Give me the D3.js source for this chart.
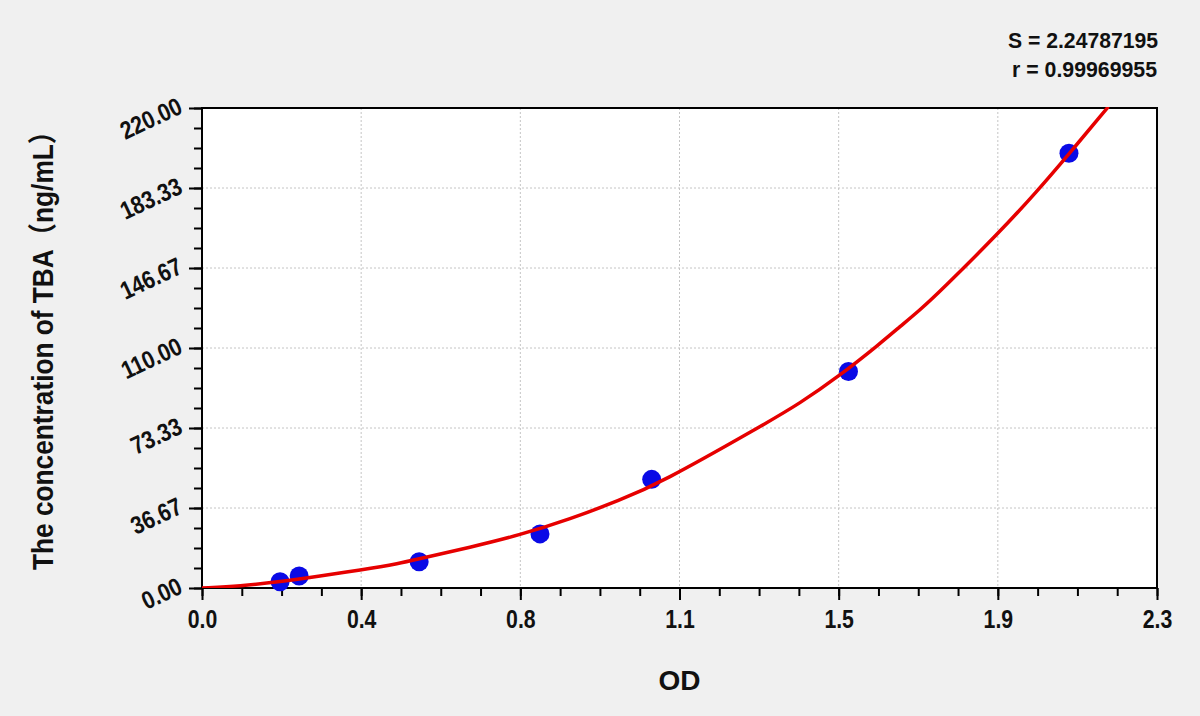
<!DOCTYPE html>
<html>
<head>
<meta charset="utf-8">
<script src="https://cdn.jsdelivr.net/npm/d3@7"></script>
<style>
  body { margin: 0; background: #f0f0f0; }
  svg { display: block; }
  text { font-family: "Liberation Sans", Arial, "Noto Sans CJK SC", sans-serif; font-weight: bold; fill: #111; }
</style>
</head>
<body>
<svg></svg>
<script>
// standards
let pointOD = [0.188, 0.234, 0.523, 0.814, 1.083, 1.557, 2.088]
let pointConc = [2.9, 5.5, 12.0, 24.8, 49.8, 99.2, 199.3]

// fitted curve
let fitOD = [0, 0.092, 0.188, 0.284, 0.381, 0.477, 0.525, 0.645, 0.766, 0.886, 1.007, 1.103, 1.344, 1.440, 1.537, 1.633, 1.681, 1.729, 1.777, 1.922, 2.010, 2.086, 2.183]
let fitConc = [0, 0.9, 2.9, 5.5, 8.2, 11.3, 13.5, 18.6, 24.3, 31.5, 40.3, 48.0, 73.9, 84.6, 97.5, 112.0, 119.8, 127.4, 135.8, 163.3, 181.6, 198.5, 220.6]

let xTickLabels = ['0.0', '0.4', '0.8', '1.1', '1.5', '1.9', '2.3']
let yTickLabels = ['0.00', '36.67', '73.33', '110.00', '146.67', '183.33', '220.00']

let xMax = 2.3
let yMax = 220
let statS = 'S = 2.24787195'
let statR = 'r = 0.99969955'
let xTitle = 'OD'
let yTitle = 'The concentration of TBA（ng/mL）'

let w = 1200
let h = 716
let plotLeft = 202
let plotRight = 1157
let plotTop = 108
let plotBottom = 588

let svg = d3.select('svg').attr('width', w).attr('height', h)

let xScale = d3.scaleLinear().domain([0, xMax]).range([plotLeft, plotRight])
let yScale = d3.scaleLinear().domain([0, yMax]).range([plotBottom, plotTop])

let xMajor = d3.range(7).map((i) => i * xMax / 6)
let yMajor = d3.range(7).map((i) => i * yMax / 6)
let xMinor = d3.range(25).map((i) => i * xMax / 24)
let yMinor = d3.range(25).map((i) => i * yMax / 24)

let drawFrame = () => {
    svg.append('rect')
       .attr('width', w).attr('height', h)
       .attr('fill', '#f0f0f0')
    svg.append('rect')
       .attr('x', plotLeft).attr('y', plotTop)
       .attr('width', plotRight - plotLeft).attr('height', plotBottom - plotTop)
       .attr('fill', 'white')

    svg.append('clipPath').attr('id', 'plot')
       .append('rect')
       .attr('x', plotLeft).attr('y', plotTop - 1)
       .attr('width', plotRight - plotLeft).attr('height', plotBottom - plotTop + 1)
}

let drawGrid = () => {
    let g = svg.append('g')
    g.selectAll('.vgrid')
     .data(xMajor.slice(1, -1))
     .enter().append('line')
     .attr('x1', (d) => xScale(d)).attr('x2', (d) => xScale(d))
     .attr('y1', plotTop).attr('y2', plotBottom)
    g.selectAll('.hgrid')
     .data(yMajor.slice(1, -1))
     .enter().append('line')
     .attr('y1', (d) => yScale(d)).attr('y2', (d) => yScale(d))
     .attr('x1', plotLeft).attr('x2', plotRight)
    g.selectAll('line')
     .attr('stroke', '#c4c4c4')
     .attr('stroke-width', 1)
     .attr('stroke-dasharray', '2,2')
}

let drawAxes = () => {
    let xMinorAxis = d3.axisBottom(xScale).tickValues(xMinor).tickSize(8).tickFormat('').tickSizeOuter(0)
    let xAxis = d3.axisBottom(xScale).tickValues(xMajor).tickSize(12).tickSizeOuter(0)
                  .tickFormat((d, i) => xTickLabels[i])
    let yMinorAxis = d3.axisLeft(yScale).tickValues(yMinor).tickSize(8).tickFormat('').tickSizeOuter(0)
    let yAxis = d3.axisLeft(yScale).tickValues(yMajor).tickSize(13).tickSizeOuter(0)
                  .tickFormat((d, i) => yTickLabels[i])

    svg.append('g').attr('transform', 'translate(0,' + plotBottom + ')').call(xMinorAxis)
    let gx = svg.append('g').attr('id', 'x-axis')
                .attr('transform', 'translate(0,' + plotBottom + ')').call(xAxis)
    svg.append('g').attr('transform', 'translate(' + plotLeft + ',0)').call(yMinorAxis)
    let gy = svg.append('g').attr('id', 'y-axis')
                .attr('transform', 'translate(' + plotLeft + ',0)').call(yAxis)

    svg.selectAll('.domain').remove()
    svg.selectAll('.tick line').attr('stroke', '#000').attr('stroke-width', 2)

    gx.selectAll('text')
      .attr('y', 22)
      .attr('font-size', 25)
      .attr('font-family', null)
      .attr('transform', 'scale(0.85,1)')
      .style('fill', '#111')

    gy.selectAll('text')
      .attr('x', 0).attr('y', 0).attr('dy', null)
      .attr('font-size', 25)
      .attr('font-family', null)
      .attr('text-anchor', 'end')
      .attr('transform', 'translate(-18,4) rotate(-25) scale(0.85,1)')
      .style('fill', '#111')

    svg.append('rect')
       .attr('x', plotLeft).attr('y', plotTop)
       .attr('width', plotRight - plotLeft).attr('height', plotBottom - plotTop)
       .attr('fill', 'none')
       .attr('stroke', '#000')
       .attr('stroke-width', 2)
}

let drawData = () => {
    let pts = pointOD.map((d, i) => [d, pointConc[i]])
    svg.append('g').selectAll('circle')
       .data(pts)
       .enter().append('circle')
       .attr('cx', (d) => xScale(d[0]))
       .attr('cy', (d) => yScale(d[1]))
       .attr('r', 9.5)
       .attr('fill', '#0a0ae6')

    let fit = fitOD.map((d, i) => [d, fitConc[i]])
    let line = d3.line()
                 .x((d) => xScale(d[0]))
                 .y((d) => yScale(d[1]))
                 .curve(d3.curveBasis)
    svg.append('path')
       .datum(fit)
       .attr('clip-path', 'url(#plot)')
       .attr('d', line)
       .attr('fill', 'none')
       .attr('stroke', '#e60000')
       .attr('stroke-width', 3.5)
}

let drawLabels = () => {
    svg.append('text')
       .attr('x', (plotLeft + plotRight) / 2).attr('y', 690)
       .attr('text-anchor', 'middle')
       .attr('font-size', 28)
       .text(xTitle)

    svg.append('text')
       .attr('transform', 'translate(53,344) rotate(-90)')
       .attr('text-anchor', 'middle')
       .attr('font-size', 29)
       .attr('textLength', 452)
       .attr('lengthAdjust', 'spacingAndGlyphs')
       .text(yTitle)

    svg.append('text')
       .attr('x', 1158).attr('y', 48)
       .attr('text-anchor', 'end')
       .attr('font-size', 22)
       .attr('textLength', 150)
       .attr('lengthAdjust', 'spacingAndGlyphs')
       .text(statS)
    svg.append('text')
       .attr('x', 1157).attr('y', 77)
       .attr('text-anchor', 'end')
       .attr('font-size', 22)
       .attr('textLength', 145)
       .attr('lengthAdjust', 'spacingAndGlyphs')
       .text(statR)
}

drawFrame()
drawGrid()
drawAxes()
drawData()
drawLabels()
</script>
</body>
</html>
